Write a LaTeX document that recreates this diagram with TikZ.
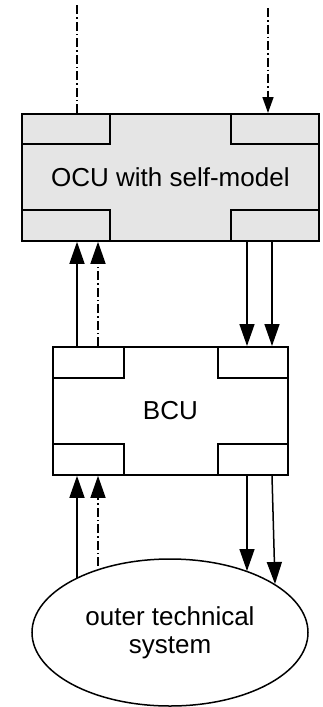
\documentclass[tikz,border=0pt]{standalone}
\usepackage{fontspec}
\setmainfont{Liberation Sans}
\usetikzlibrary{arrows.meta,shapes.geometric}
\definecolor{ocugray}{HTML}{E5E5E5}
\begin{document}
\begin{tikzpicture}[x=1pt,y=-1pt,
  box/.style={draw,line width=1.8pt,inner sep=0pt,anchor=north west,font=\fontsize{26}{28}\selectfont},
  port/.style={draw,line width=1.8pt,inner sep=0pt,anchor=north west},
  arr/.style={line width=1.5pt,-{Triangle[length=22pt,width=15pt]}},
  smallarr/.style={line width=1.5pt,-{Triangle[length=16pt,width=11pt]}},
  plain/.style={line width=1.5pt},
  dd/.style={dash pattern=on 9pt off 3pt on 1.5pt off 3pt}]
\useasboundingbox (0,0) rectangle (322,707);
% OCU
\node[box,fill=ocugray,minimum width=297pt,minimum height=127pt] (ocu) at (21,113) {OCU with self-model};
\node[port,fill=ocugray,minimum width=88pt,minimum height=30pt] (ocutl) at (21,113) {};
\node[port,fill=ocugray,minimum width=88pt,minimum height=30pt] (ocutr) at (230,113) {};
\node[port,fill=ocugray,minimum width=88pt,minimum height=31pt] (ocubl) at (21,209) {};
\node[port,fill=ocugray,minimum width=88pt,minimum height=31pt] (ocubr) at (230,209) {};
% BCU
\node[box,fill=white,minimum width=235pt,minimum height=128pt] (bcu) at (52,346) {BCU};
\node[port,fill=white,minimum width=71pt,minimum height=31pt] (bcutl) at (52,346) {};
\node[port,fill=white,minimum width=70pt,minimum height=31pt] (bcutr) at (217,346) {};
\node[port,fill=white,minimum width=71pt,minimum height=31pt] (bcubl) at (52,443) {};
\node[port,fill=white,minimum width=70pt,minimum height=31pt] (bcubr) at (217,443) {};
% outer system
\node[draw,ellipse,line width=1.5pt,minimum width=276pt,minimum height=147pt,inner sep=0pt,align=center,
  font=\fontsize{26}{28}\selectfont] (ell) at (170,632.5) {outer technical\\system};
% coordinates
\coordinate (t1) at (77,5);
\coordinate (t2) at (268,8);
\coordinate (xa) at (77,0);
\coordinate (xb) at (98,0);
\coordinate (xc) at (247,0);
\coordinate (xd) at (272,0);
\coordinate (e1) at (77,578);
\coordinate (e2) at (98,566);
\coordinate (e3) at (247,571);
\coordinate (e4) at (275,584);
% top connectors
\draw[plain,dd] (ocu.north -| t1) -- (t1);
\draw[smallarr,dd] (t2) -- (ocu.north -| t2);
% OCU <-> BCU
\draw[arr] (bcu.north -| xa) -- (ocu.south -| xa);
\draw[arr,dd] (bcu.north -| xb) -- (ocu.south -| xb);
\draw[arr] (ocu.south -| xc) -- (bcu.north -| xc);
\draw[arr] (ocu.south -| xd) -- (bcu.north -| xd);
% BCU <-> outer system
\draw[arr] (e1) -- (bcu.south -| e1);
\draw[arr,dd] (e2) -- (bcu.south -| e2);
\draw[arr] (bcu.south -| xc) -- (e3);
\draw[arr] (bcu.south -| xd) -- (e4);
\end{tikzpicture}
\end{document}
